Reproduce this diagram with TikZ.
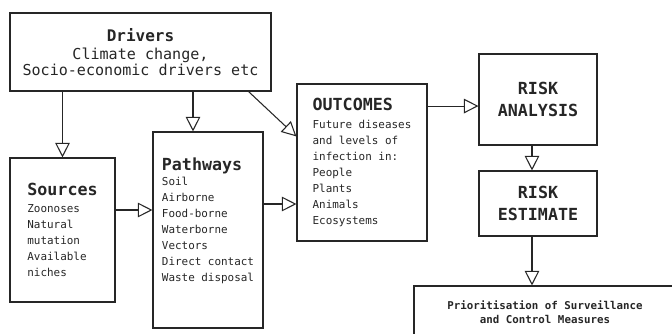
\documentclass[tikz,border=0pt]{standalone}
\usepackage{fontspec}
\setmainfont{DejaVu Sans Mono}
\usetikzlibrary{arrows.meta}
\definecolor{inkgray}{HTML}{262626}
\newcommand{\bodytxt}{\fontsize{8.2}{12}\selectfont}
\newcommand{\headtxt}{\fontsize{12.5}{16}\selectfont\bfseries}

\begin{document}
\begin{tikzpicture}[x=0.75pt, y=-0.75pt,
    box/.style={draw=inkgray, line width=0.8pt, text=inkgray, inner sep=0pt, font=\bodytxt},
    flow/.style={draw=inkgray, line width=0.8pt, -{Triangle[open, length=11pt, width=11pt]}}]
\useasboundingbox (0,0) rectangle (672,333);
\clip (0,0) rectangle (672,333);
\node[box, align=center, minimum width=195.75pt, minimum height=58.5pt] (Drivers) at (140.5, 52)
    {{\fontsize{12}{14}\selectfont\bfseries Drivers}\\[2pt]
     {\fontsize{11.3}{12}\selectfont Climate change,}\\
     {\fontsize{11.3}{12}\selectfont Socio-economic drivers etc}};
\node[box, align=left, minimum width=78.75pt, minimum height=108pt] (Sources) at (62.5, 230)
    {{\headtxt Sources}\\[1pt] Zoonoses\\ Natural\\ mutation\\ Available\\ niches};
\node[box, align=left, minimum width=82.5pt, minimum height=147pt] (Pathways) at (208, 230)
    {{\headtxt Pathways}\\[-1pt] Soil\\ Airborne\\ Food-borne\\ Waterborne\\ Vectors\\ Direct contact\\ Waste disposal\\[4pt]\mbox{}};
\node[box, align=left, minimum width=97.5pt, minimum height=117.75pt] (Outcomes) at (362, 162.5)
    {{\headtxt OUTCOMES}\\[1pt] Future diseases\\ and levels of\\ infection in:\\ People\\ Plants\\ Animals\\ Ecosystems};
\node[box, align=center, minimum width=88.5pt, minimum height=68.25pt, font=\headtxt] (RiskAnalysis) at (538, 99.5)
    {RISK\\ ANALYSIS};
\node[box, align=center, minimum width=88.5pt, minimum height=48.75pt, font=\headtxt] (RiskEstimate) at (538, 203.5)
    {RISK\\ ESTIMATE};
\node[box, align=center, minimum width=196.5pt, minimum height=39pt, font=\fontsize{8.1}{10.5}\selectfont\bfseries] (Measures) at (545, 312)
    {Prioritisation of Surveillance\\ and Control Measures};
% connectors
\draw[flow] (Drivers.south -| Sources.north) -- (Sources.north);
\draw[flow] ([xshift=-11.25pt]Pathways.north |- Drivers.south) -- ([xshift=-11.25pt]Pathways.north);
\draw[flow] ([xshift=-17.25pt]Drivers.south east) -- ([yshift=-39.75pt]Outcomes.north west);
\draw[flow] ([yshift=15pt]Sources.east) -- ([yshift=15pt]Sources.east -| Pathways.west);
\draw[flow] ([yshift=19.5pt]Pathways.east) -- ([yshift=19.5pt]Pathways.east -| Outcomes.west);
\draw[flow] ([yshift=-4.9pt]RiskAnalysis.west -| Outcomes.east) -- ([yshift=-4.9pt]RiskAnalysis.west);
\draw[flow] ([xshift=-4.5pt]RiskAnalysis.south) -- ([xshift=-4.5pt]RiskEstimate.north);
\draw[flow] ([xshift=-4.5pt]RiskEstimate.south) -- ([xshift=-4.5pt]RiskEstimate.south |- Measures.north);
\end{tikzpicture}
\end{document}
